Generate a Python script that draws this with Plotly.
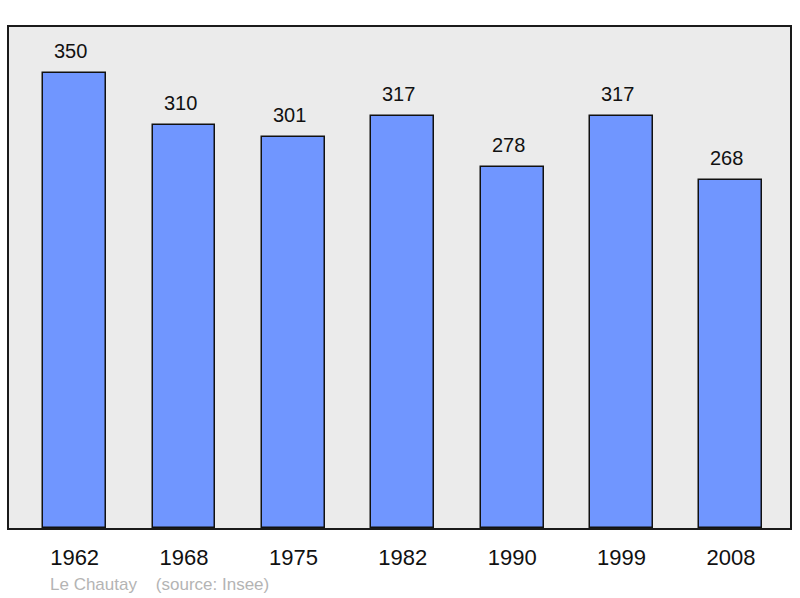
import plotly.graph_objects as go

# data
years = ["1962", "1968", "1975", "1982", "1990", "1999", "2008"]
population = [350, 310, 301, 317, 278, 317, 268]
commune = "Le Chautay"
source = "(source: Insee)"

FONT = "Liberation Sans, Arial, sans-serif"

fig = go.Figure()

fig.add_trace(go.Bar(
    x=list(range(len(years))),
    y=population,
    width=0.575,
    marker=dict(color="#7096ff", line=dict(color="#111111", width=1.5)),
    hoverinfo="skip",
    showlegend=False,
))

# value labels above bars
for i, v in enumerate(population):
    fig.add_annotation(
        x=i, y=v, text=str(v), showarrow=False,
        yanchor="bottom", yshift=9, xshift=-4,
        font=dict(family=FONT, size=20, color="#111111"),
    )

# footer
fig.add_annotation(
    x=0.0505, y=-0.112, xref="paper", yref="paper", xanchor="left", yanchor="middle",
    text=commune + "&nbsp;&nbsp;&nbsp;&nbsp;" + source, showarrow=False,
    font=dict(family=FONT, size=17, color="#b4b4b4"),
)

fig.update_layout(
    width=800, height=598,
    margin=dict(l=9, r=8, t=27, b=70),
    paper_bgcolor="white",
    plot_bgcolor="#ebebeb",
    bargap=0,
)

fig.update_xaxes(
    range=[-0.6, 6.54],
    tickmode="array",
    tickvals=list(range(len(years))),
    ticktext=years,
    ticks="",
    ticklabelstandoff=9,
    showgrid=False, zeroline=False,
    showline=True, mirror=True, linecolor="#1a1a1a", linewidth=2,
    tickfont=dict(family=FONT, size=22, color="#111111"),
)
fig.update_yaxes(
    range=[0, 385.4],
    showticklabels=False, ticks="",
    showgrid=False, zeroline=False,
    showline=True, mirror=True, linecolor="#1a1a1a", linewidth=2,
)

fig.write_html(
    "out.html",
    config={"displayModeBar": False},
    post_script="document.body.style.margin='0';",
)
